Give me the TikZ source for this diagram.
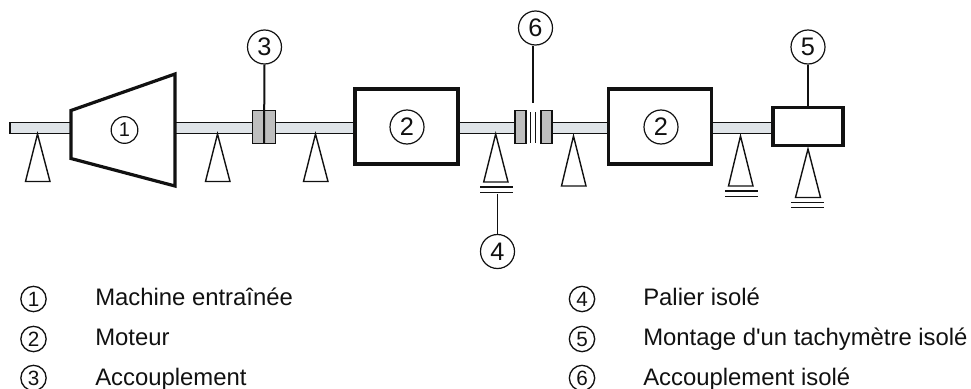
\documentclass[tikz,border=0pt]{standalone}
\usepackage{fontspec}
\setmainfont{Liberation Sans}
\newfontfamily\plainsans{Liberation Sans}
\definecolor{shaftc}{HTML}{DFE4E8}
\definecolor{cplc}{HTML}{BEBEBE}
\definecolor{inkc}{HTML}{111111}
\tikzset{
  x=0.75pt,y=-0.75pt,
  shaft/.style={draw=inkc,fill=shaftc,line width=1pt},
  machine/.style={draw=inkc,fill=white,line width=2.4pt,miter limit=10},
  bearing/.style={draw=inkc,fill=white,line width=1.05pt,line join=miter},
  ground/.style={draw=inkc,line width=1.05pt},
  cpl/.style={draw=inkc,fill=cplc,line width=1.05pt},
  leader/.style={draw=inkc,line width=1.05pt},
  callout/.style={circle,draw=inkc,fill=white,line width=0.9pt,minimum size=25.5pt,inner sep=0pt,font=\plainsans\fontsize{19}{19}\selectfont,text=inkc},
  smallcall/.style={callout,minimum size=20pt,font=\plainsans\fontsize{15}{15}\selectfont},
  legnum/.style={circle,draw=inkc,line width=1pt,minimum size=19pt,inner sep=0pt,font=\plainsans\fontsize{15.5}{15.5}\selectfont,text=inkc},
  legtext/.style={anchor=base west,inner sep=0pt,font=\plainsans\fontsize{17.9}{17.9}\selectfont,text=inkc},
}
\newcommand{\boxat}[6]{\node[#1,rectangle,minimum width=#4*0.75pt,minimum height=#5*0.75pt,inner sep=0pt,outer sep=0pt] (#6) at (#2,#3) {};}
\begin{document}
\begin{tikzpicture}
\useasboundingbox (0,0) rectangle (971,389);
% shafts
\draw[shaft] (10,122.5) rectangle (72,133.5);
\draw[shaft] (175,122.5) rectangle (355,133.5);
\draw[shaft] (458,122.5) rectangle (515,133.5);
\draw[shaft] (552,122.5) rectangle (608,133.5);
\draw[shaft] (711,122.5) rectangle (773,133.5);
% machine 1
\draw[machine] (71,110.5) -- (175,74) -- (175,186) -- (71,158.5) -- cycle;
\node[smallcall] (n1) at (124.5,130) {1};
% motors
\boxat{machine}{406.5}{126.5}{103}{75}{m1}
\boxat{machine}{660}{126.5}{103}{75}{m2}
\boxat{machine}{808}{126.5}{70}{38}{tach}
\node[callout] (n2a) at (407,127) {2};
\node[callout] (n2b) at (661,127) {2};
% bearings
\draw[bearing] (37.5,134) -- (25.5,181.5) -- (50,181.5) -- cycle;
\draw[bearing] (217.5,134) -- (205.5,181.5) -- (230,181.5) -- cycle;
\draw[bearing] (315.5,134) -- (303.5,181.5) -- (328,181.5) -- cycle;
\draw[bearing] (495.7,134) -- (483.7,182) -- (508,182) -- cycle;
\draw[bearing] (573.5,136) -- (561.5,186) -- (586,186) -- cycle;
\draw[bearing] (740.5,136) -- (728.5,186) -- (753,186) -- cycle;
\draw[bearing] (808,149) -- (795.5,197.5) -- (820.5,197.5) -- cycle;
% grounds
\draw[ground] (480,187) -- (513,187) (480,192.5) -- (513,192.5);
\draw[ground] (725,191) -- (758,191) (725,196.5) -- (758,196.5);
\draw[ground] (791,202.5) -- (824,202.5) (791,207.5) -- (824,207.5);
\coordinate (g4) at (497.5,194);
% coupling 3
\boxat{cpl}{264}{126.75}{23}{33}{c3}
% coupling 6
\boxat{cpl}{520.5}{126.75}{11}{33}{c6a}
\boxat{cpl}{546.5}{126.75}{11}{33}{c6b}
\draw[leader] (530.7,112) -- (530.7,143) (535.7,112) -- (535.7,143);
% callouts
\node[callout] (n3) at (264.5,47) {3};
\node[callout] (n6) at (535.5,28) {6};
\node[callout] (n4) at (497.5,251.5) {4};
\node[callout] (n5) at (808,47) {5};
\coordinate (e6) at (533,103);
\draw[leader,line width=1.5pt] (n3.south) -- (c3.south);
\draw[leader] (n6.south -| e6) -- (e6);
\draw[leader] (g4) -- (n4.north);
\draw[leader] (n5.south) -- (tach.north);
% legend
\node[legnum] (l1) at (33.5,299) {1};
\node[legnum] (l2) at (33.5,339) {2};
\node[legnum] (l3) at (33.5,378) {3};
\node[legnum] (l4) at (582,299) {4};
\node[legnum] (l5) at (582,339) {5};
\node[legnum] (l6) at (582,378) {6};
\node[legtext] (t1) at (95,305) {Machine entraînée};
\node[legtext] (t2) at (95,345.5) {Moteur};
\node[legtext] (t3) at (95,385) {Accouplement};
\node[legtext] (t4) at (643,305) {Palier isolé};
\node[legtext] (t5) at (643,345.5) {Montage d'un tachymètre isolé};
\node[legtext] (t6) at (643,385) {Accouplement isolé};
\end{tikzpicture}
\end{document}
